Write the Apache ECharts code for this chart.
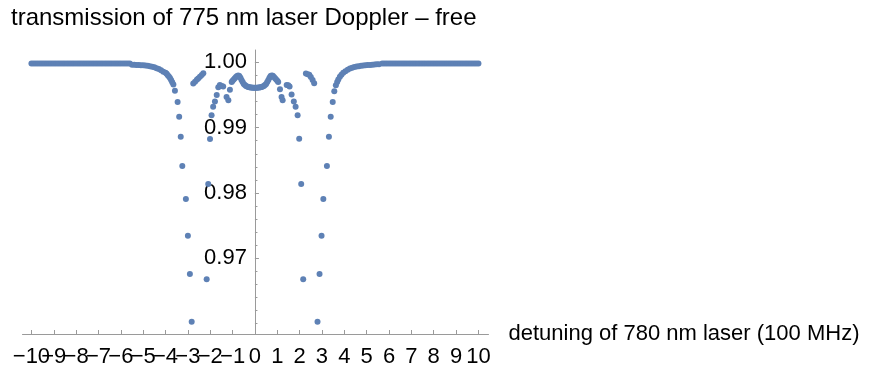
<!DOCTYPE html>
<html>
<head>
<meta charset="utf-8">
<script src="https://cdn.jsdelivr.net/npm/echarts@6/dist/echarts.min.js"></script>
<style>
  html, body { margin: 0; padding: 0; background: #fff; }
  #chart { width: 870px; height: 372px; }
</style>
</head>
<body>
<div id="chart"></div>
<script>
// tick positions / labels (x split in two sets so overlapping labels all stay visible)
const xTicksEven = [-10, -8, -6, -4, -2, 0, 2, 4, 6, 8, 10];
const xTicksOdd = [-9, -7, -5, -3, -1, 1, 3, 5, 7, 9];
const yMajorTicks = [0.97, 0.98, 0.99, 1.0];
const yMinorTicks = [0.96, 0.962, 0.964, 0.966, 0.968, 0.97, 0.972, 0.974, 0.976, 0.978, 0.98,
  0.982, 0.984, 0.986, 0.988, 0.99, 0.992, 0.994, 0.996, 0.998, 1.0];

// measured points [detuning, transmission]
const leftWing = [
  [-10, 0.99985], [-9.9, 0.99985], [-9.8, 0.99985], [-9.7, 0.99985], [-9.6, 0.99985], [-9.5, 0.99985],
  [-9.4, 0.99985], [-9.3, 0.99985], [-9.2, 0.99985], [-9.1, 0.99985], [-9, 0.99985], [-8.9, 0.99985],
  [-8.8, 0.99985], [-8.7, 0.99985], [-8.6, 0.99985], [-8.5, 0.99985], [-8.4, 0.99985], [-8.3, 0.99985],
  [-8.2, 0.99985], [-8.1, 0.99985], [-8, 0.99985], [-7.9, 0.99985], [-7.8, 0.99985], [-7.7, 0.99985],
  [-7.6, 0.99985], [-7.5, 0.99985], [-7.4, 0.99985], [-7.3, 0.99985], [-7.2, 0.99985], [-7.1, 0.99985],
  [-7, 0.99985], [-6.9, 0.99985], [-6.8, 0.99985], [-6.7, 0.99985], [-6.6, 0.99985], [-6.5, 0.99985],
  [-6.4, 0.99985], [-6.3, 0.99985], [-6.2, 0.99985], [-6.1, 0.99985], [-6, 0.99985], [-5.9, 0.99985],
  [-5.8, 0.99985], [-5.7, 0.99985], [-5.6, 0.99985],
  [-5.5, 0.99965], [-5.4, 0.99963], [-5.3, 0.9996], [-5.2, 0.9996], [-5.1, 0.99958], [-5, 0.99955],
  [-4.9, 0.99952], [-4.8, 0.99948], [-4.7, 0.9994], [-4.6, 0.99932], [-4.5, 0.99925], [-4.4, 0.99912],
  [-4.3, 0.99898], [-4.2, 0.9988], [-4.1, 0.99858], [-4, 0.9984], [-3.95, 0.99825], [-3.9, 0.99805],
  [-3.85, 0.99785], [-3.8, 0.9976], [-3.75, 0.9973], [-3.7, 0.99695], [-3.65, 0.9966]
];
const leftDip = [
  [-3.58, 0.99565], [-3.46, 0.99392], [-3.39, 0.99167], [-3.32, 0.98861], [-3.25, 0.98412],
  [-3.09, 0.97907], [-3.0, 0.97345], [-2.91, 0.96758], [-2.83, 0.96028],
  [-2.76, 0.99678], [-2.68, 0.99703], [-2.6, 0.99735], [-2.54, 0.99755], [-2.46, 0.9978],
  [-2.38, 0.99806], [-2.31, 0.99832],
  [-2.16, 0.96677], [-2.09, 0.98136], [-2.01, 0.98825], [-1.94, 0.9919], [-1.87, 0.9932],
  [-1.79, 0.994], [-1.71, 0.995], [-1.64, 0.9962], [-1.57, 0.99652], [-1.49, 0.9964],
  [-1.42, 0.9963], [-1.27, 0.9947], [-1.19, 0.9942], [-1.12, 0.9958]
];
const center = [
  [-1.04, 0.997], [-1.0, 0.99718], [-0.95, 0.9974], [-0.9, 0.99758], [-0.85, 0.99776], [-0.8, 0.9979],
  [-0.75, 0.998], [-0.7, 0.9979], [-0.65, 0.99765], [-0.6, 0.9973], [-0.55, 0.997], [-0.5, 0.9967],
  [-0.45, 0.99652], [-0.4, 0.9964], [-0.35, 0.9963], [-0.3, 0.99624], [-0.25, 0.9962], [-0.2, 0.99616],
  [-0.15, 0.99614], [-0.1, 0.99612], [-0.05, 0.99611], [0, 0.9961], [0.05, 0.99611], [0.1, 0.99612],
  [0.15, 0.99614], [0.2, 0.99616], [0.25, 0.9962], [0.3, 0.99624], [0.35, 0.9963], [0.4, 0.9964],
  [0.45, 0.99652], [0.5, 0.9967], [0.55, 0.997], [0.6, 0.9973], [0.65, 0.99765], [0.7, 0.9979],
  [0.75, 0.998], [0.8, 0.99795], [0.85, 0.99776], [0.9, 0.99758], [0.95, 0.9974], [1.0, 0.99718],
  [1.04, 0.997]
];
const rightDip = [
  [1.12, 0.99587], [1.19, 0.9947], [1.24, 0.9942], [1.42, 0.99652], [1.49, 0.9965], [1.55, 0.9963],
  [1.64, 0.9951], [1.74, 0.994], [1.82, 0.9932], [1.91, 0.9919], [1.98, 0.9883], [2.07, 0.98136],
  [2.16, 0.96677],
  [2.28, 0.9983], [2.36, 0.9982], [2.43, 0.9981], [2.5, 0.99775], [2.58, 0.9973], [2.65, 0.9968],
  [2.8, 0.96028], [2.89, 0.96758], [2.98, 0.97345], [3.06, 0.97907], [3.22, 0.98412], [3.31, 0.98861],
  [3.39, 0.99167], [3.48, 0.99392], [3.55, 0.9956]
];
const rightWing = [
  [3.62, 0.9965], [3.68, 0.997], [3.73, 0.9974], [3.8, 0.9978], [3.87, 0.9981], [3.95, 0.9984],
  [4.05, 0.99866], [4.15, 0.99888], [4.25, 0.99905], [4.35, 0.99918], [4.45, 0.99928], [4.55, 0.99936],
  [4.65, 0.99942], [4.75, 0.99948], [4.85, 0.99953], [4.95, 0.99957], [5.05, 0.9996], [5.15, 0.99962],
  [5.25, 0.99965], [5.35, 0.99967], [5.45, 0.9997], [5.55, 0.99972],
  [5.7, 0.99985], [5.8, 0.99985], [5.9, 0.99985], [6, 0.99985], [6.1, 0.99985], [6.2, 0.99985],
  [6.3, 0.99985], [6.4, 0.99985], [6.5, 0.99985], [6.6, 0.99985], [6.7, 0.99985], [6.8, 0.99985],
  [6.9, 0.99985], [7, 0.99985], [7.1, 0.99985], [7.2, 0.99985], [7.3, 0.99985], [7.4, 0.99985],
  [7.5, 0.99985], [7.6, 0.99985], [7.7, 0.99985], [7.8, 0.99985], [7.9, 0.99985], [8, 0.99985],
  [8.1, 0.99985], [8.2, 0.99985], [8.3, 0.99985], [8.4, 0.99985], [8.5, 0.99985], [8.6, 0.99985],
  [8.7, 0.99985], [8.8, 0.99985], [8.9, 0.99985], [9, 0.99985], [9.1, 0.99985], [9.2, 0.99985],
  [9.3, 0.99985], [9.4, 0.99985], [9.5, 0.99985], [9.6, 0.99985], [9.7, 0.99985], [9.8, 0.99985],
  [9.9, 0.99985], [10, 0.99985]
];

const FONT = "'Liberation Sans', Arial, sans-serif";
const AXIS_GRAY = "#9a9a9a";
const GRID_LEFT = 22.5;
const X_MIN = -10.4;
const X_MAX = 10.45;
const GRID_W = 466;
// shift the y axis from the grid's left edge to x = 0
const Y_OFFSET = -(-X_MIN / (X_MAX - X_MIN)) * GRID_W;

const xLabelFmt = (v) => (v < 0 ? "\u2212" + Math.abs(v) : String(v));

function xAxisFor(ticks, withLine) {
  return {
    type: "value",
    min: X_MIN,
    max: X_MAX,
    position: "bottom",
    axisLine: { show: withLine, onZero: false, lineStyle: { color: AXIS_GRAY, width: 1 } },
    axisTick: { inside: true, length: 4, customValues: ticks, lineStyle: { color: AXIS_GRAY } },
    axisLabel: {
      customValues: ticks,
      margin: 12,
      hideOverlap: false,
      fontFamily: FONT,
      fontSize: 22,
      color: "#000",
      formatter: xLabelFmt,
    },
    splitLine: { show: false },
  };
}

const myChart = echarts.init(document.getElementById("chart"));

const xMain = xAxisFor(xTicksEven, true);
xMain.name = "detuning of 780 nm laser (100 MHz)";
xMain.nameLocation = "end";
xMain.nameGap = 20;
xMain.nameTextStyle = { fontFamily: FONT, fontSize: 22, color: "#000" };

const option = {
  animation: false,
  title: {
    text: "transmission of 775 nm laser Doppler – free",
    left: 6,
    top: 1,
    textStyle: { fontFamily: FONT, fontSize: 24, fontWeight: "normal", color: "#000" },
  },
  grid: {
    left: GRID_LEFT,
    width: GRID_W,
    top: 50,
    bottom: 38,
    containLabel: false,
    outerBoundsMode: "none",
  },
  xAxis: [xMain, xAxisFor(xTicksOdd, false)],
  yAxis: [
    {
      type: "value",
      min: 0.9584,
      max: 1.0019,
      position: "left",
      offset: Y_OFFSET,
      axisLine: { onZero: false, lineStyle: { color: AXIS_GRAY, width: 1 } },
      axisTick: { inside: true, length: 4, customValues: yMajorTicks, lineStyle: { color: AXIS_GRAY } },
      axisLabel: {
        customValues: yMajorTicks,
        margin: 8,
        fontFamily: FONT,
        fontSize: 22,
        color: "#000",
        formatter: (v) => v.toFixed(2),
      },
      splitLine: { show: false },
    },
    {
      type: "value",
      min: 0.9584,
      max: 1.0019,
      position: "left",
      offset: Y_OFFSET,
      axisLine: { show: false, onZero: false },
      axisTick: { inside: true, length: 2.5, customValues: yMinorTicks, lineStyle: { color: AXIS_GRAY } },
      axisLabel: { show: false },
      splitLine: { show: false },
    },
  ],
  series: [
    {
      type: "scatter",
      xAxisIndex: 0,
      yAxisIndex: 0,
      symbolSize: 6,
      itemStyle: { color: "#5E81B5", opacity: 1 },
      data: [].concat(leftWing, leftDip, center, rightDip, rightWing),
    },
  ],
};
myChart.setOption(option);
</script>
</body>
</html>
